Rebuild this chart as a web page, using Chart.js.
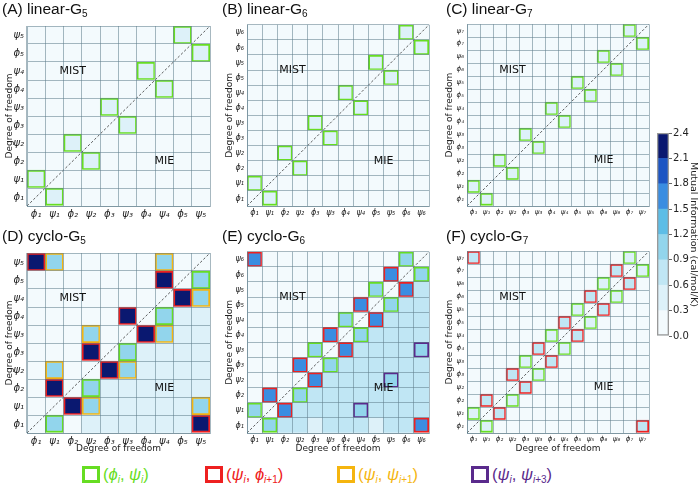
<!DOCTYPE html>
<html>
<head>
<meta charset="utf-8">
<script src="https://cdn.jsdelivr.net/npm/chart.js@4.4.1/dist/chart.umd.min.js"></script>
<style>
  body { margin: 0; width: 700px; height: 486px; background: #fff; position: relative; overflow: hidden; font-family: 'Liberation Sans', Arial, sans-serif; }
  .panel { position: absolute; }
  .ptitle { position: absolute; font-size: 15.5px; color: #111; white-space: nowrap; line-height: 18px; }
  .ptitle sub { font-size: 10px; vertical-align: -3px; line-height: 0; }
  .lg { position: absolute; top: 466px; display: flex; align-items: center; font-size: 16.5px; line-height: 17px; white-space: nowrap; }
  .lg .sw { width: 18px; height: 17px; box-sizing: border-box; border: 3px solid; margin-right: 3px; }
  .lg sub { font-size: 10px; line-height: 0; vertical-align: -3px; }
</style>
</head>
<body>
<script>
// Degrees of freedom (bottom to top / left to right)
const dofG5 = ['ϕ₁','ψ₁','ϕ₂','ψ₂','ϕ₃','ψ₃','ϕ₄','ψ₄','ϕ₅','ψ₅'];
const dofG6 = ['ϕ₁','ψ₁','ϕ₂','ψ₂','ϕ₃','ψ₃','ϕ₄','ψ₄','ϕ₅','ψ₅','ϕ₆','ψ₆'];
const dofG7 = ['ϕ₁','ψ₁','ϕ₂','ψ₂','ϕ₃','ψ₃','ϕ₄','ψ₄','ϕ₅','ψ₅','ϕ₆','ψ₆','ϕ₇','ψ₇'];

// Colour scale (cal/mol/K)
const miBins = [0, 0.3, 0.6, 0.9, 1.2, 1.5, 1.8, 2.1, 2.4];
const miColors = ['#f3fafd', '#ddf1f9', '#c0e6f4', '#92d5ec', '#5dbde6', '#3a8de1', '#1d55c3', '#0a1870'];

// Mutual information, rows listed top (last dof) to bottom (ϕ1)
const linearG5 = [
  [.1,.1,.1,.1,.1,.1,.1,.1,.4,.1],
  [.1,.1,.1,.1,.1,.1,.1,.1,.1,.4],
  [.1,.1,.1,.1,.1,.1,.4,.1,.1,.1],
  [.1,.1,.1,.1,.1,.1,.1,.4,.1,.1],
  [.1,.1,.1,.1,.4,.1,.1,.1,.1,.1],
  [.1,.1,.1,.1,.1,.4,.1,.1,.1,.1],
  [.1,.1,.4,.1,.1,.1,.1,.1,.1,.1],
  [.1,.1,.1,.4,.1,.1,.1,.1,.1,.1],
  [.4,.1,.1,.1,.1,.1,.1,.1,.1,.1],
  [.1,.4,.1,.1,.1,.1,.1,.1,.1,.1]
];
const linearG6 = [
  [.1,.1,.1,.1,.1,.1,.1,.1,.1,.1,.4,.1],
  [.1,.1,.1,.1,.1,.1,.1,.1,.1,.1,.1,.4],
  [.1,.1,.1,.1,.1,.1,.1,.1,.4,.1,.1,.1],
  [.1,.1,.1,.1,.1,.1,.1,.1,.1,.4,.1,.1],
  [.1,.1,.1,.1,.1,.1,.4,.1,.1,.1,.1,.1],
  [.1,.1,.1,.1,.1,.1,.1,.4,.1,.1,.1,.1],
  [.1,.1,.1,.1,.4,.1,.1,.1,.1,.1,.1,.1],
  [.1,.1,.1,.1,.1,.4,.1,.1,.1,.1,.1,.1],
  [.1,.1,.4,.1,.1,.1,.1,.1,.1,.1,.1,.1],
  [.1,.1,.1,.4,.1,.1,.1,.1,.1,.1,.1,.1],
  [.4,.1,.1,.1,.1,.1,.1,.1,.1,.1,.1,.1],
  [.1,.4,.1,.1,.1,.1,.1,.1,.1,.1,.1,.1]
];
const linearG7 = [
  [.1,.1,.1,.1,.1,.1,.1,.1,.1,.1,.1,.1,.4,.1],
  [.1,.1,.1,.1,.1,.1,.1,.1,.1,.1,.1,.1,.1,.4],
  [.1,.1,.1,.1,.1,.1,.1,.1,.1,.1,.4,.1,.1,.1],
  [.1,.1,.1,.1,.1,.1,.1,.1,.1,.1,.1,.4,.1,.1],
  [.1,.1,.1,.1,.1,.1,.1,.1,.4,.1,.1,.1,.1,.1],
  [.1,.1,.1,.1,.1,.1,.1,.1,.1,.4,.1,.1,.1,.1],
  [.1,.1,.1,.1,.1,.1,.4,.1,.1,.1,.1,.1,.1,.1],
  [.1,.1,.1,.1,.1,.1,.1,.4,.1,.1,.1,.1,.1,.1],
  [.1,.1,.1,.1,.4,.1,.1,.1,.1,.1,.1,.1,.1,.1],
  [.1,.1,.1,.1,.1,.4,.1,.1,.1,.1,.1,.1,.1,.1],
  [.1,.1,.4,.1,.1,.1,.1,.1,.1,.1,.1,.1,.1,.1],
  [.1,.1,.1,.4,.1,.1,.1,.1,.1,.1,.1,.1,.1,.1],
  [.4,.1,.1,.1,.1,.1,.1,.1,.1,.1,.1,.1,.1,.1],
  [.1,.4,.1,.1,.1,.1,.1,.1,.1,.1,.1,.1,.1,.1]
];
const cycloG5 = [
  [2.3,1.0,.1,.1,.1,.1,.1,1.0,.1,.1],
  [.1,.1,.1,.1,.1,.1,.1,2.3,.1,1.0],
  [.1,.1,.1,.1,.1,.1,.1,.1,2.3,1.0],
  [.1,.1,.1,.1,.1,2.3,.1,1.0,.4,.4],
  [.1,.1,.1,1.0,.1,.1,2.3,1.0,.4,.4],
  [.1,.1,.1,2.3,.1,1.0,.4,.4,.4,.4],
  [.1,1.0,.1,.1,2.3,1.0,.4,.4,.4,.4],
  [.1,2.3,.1,1.0,.4,.4,.4,.4,.4,.4],
  [.1,.1,2.3,1.0,.4,.4,.4,.4,.4,1.0],
  [.1,1.0,.2,.4,.4,.4,.4,.4,.4,2.3]
];
const cycloG6 = [
  [1.65,.1,.1,.1,.1,.1,.1,.1,.1,.1,1.0,.1],
  [.1,.1,.1,.1,.1,.1,.1,.1,.1,1.65,.1,1.0],
  [.1,.1,.1,.1,.1,.1,.1,.1,1.0,.1,1.65,.7],
  [.1,.1,.1,.1,.1,.1,.1,1.65,.1,1.0,.7,.7],
  [.1,.1,.1,.1,.1,.1,1.0,.1,1.65,.7,.7,.7],
  [.1,.1,.1,.1,.1,1.65,.1,1.0,.7,.7,.7,.7],
  [.1,.1,.1,.1,1.0,.1,1.65,.7,.7,.7,.7,1.0],
  [.1,.1,.1,1.65,.1,1.0,.7,.7,.7,.7,.7,.7],
  [.1,.1,.1,.1,1.65,.7,.7,.7,.7,1.0,.7,.7],
  [.1,1.65,.1,1.0,.7,.7,.7,.7,.7,.7,.7,.7],
  [1.0,.1,1.65,.7,.7,.7,.7,1.0,.7,.7,.7,.7],
  [.1,1.0,.7,.7,.45,.7,.7,.7,.45,.7,.7,1.65]
];
const cycloG7 = [
  [.8,.1,.1,.1,.1,.1,.1,.1,.1,.1,.1,.1,.4,.1],
  [.1,.1,.1,.1,.1,.1,.1,.1,.1,.1,.1,.8,.1,.4],
  [.1,.1,.1,.1,.1,.1,.1,.1,.1,.1,.4,.1,.8,.1],
  [.1,.1,.1,.1,.1,.1,.1,.1,.1,.8,.1,.4,.1,.1],
  [.1,.1,.1,.1,.1,.1,.1,.1,.4,.1,.8,.1,.1,.1],
  [.1,.1,.1,.1,.1,.1,.1,.8,.1,.4,.1,.1,.1,.1],
  [.1,.1,.1,.1,.1,.1,.4,.1,.8,.1,.1,.1,.1,.1],
  [.1,.1,.1,.1,.1,.8,.1,.4,.1,.1,.1,.1,.1,.1],
  [.1,.1,.1,.1,.4,.1,.8,.1,.1,.1,.1,.1,.1,.1],
  [.1,.1,.1,.8,.1,.4,.1,.1,.1,.1,.1,.1,.1,.1],
  [.1,.1,.1,.1,.8,.1,.1,.1,.1,.1,.1,.1,.1,.1],
  [.1,.8,.1,.4,.1,.1,.1,.1,.1,.1,.1,.1,.1,.1],
  [.4,.1,.8,.1,.1,.1,.1,.1,.1,.1,.1,.1,.1,.1],
  [.1,.4,.1,.1,.1,.1,.1,.1,.1,.1,.1,.1,.1,.8]
];

// Outlined cells: [column, row (0 = ϕ1), pair type]
const linearG5Boxes = [[8,9,'g'],[9,8,'g'],[6,7,'g'],[7,6,'g'],[4,5,'g'],[5,4,'g'],[2,3,'g'],[3,2,'g'],[0,1,'g'],[1,0,'g']];
const linearG6Boxes = [[10,11,'g'],[11,10,'g'],[8,9,'g'],[9,8,'g'],[6,7,'g'],[7,6,'g'],[4,5,'g'],[5,4,'g'],[2,3,'g'],[3,2,'g'],[0,1,'g'],[1,0,'g']];
const linearG7Boxes = [[12,13,'g'],[13,12,'g'],[10,11,'g'],[11,10,'g'],[8,9,'g'],[9,8,'g'],[6,7,'g'],[7,6,'g'],[4,5,'g'],[5,4,'g'],[2,3,'g'],[3,2,'g'],[0,1,'g'],[1,0,'g']];
const cycloG5Boxes = [[0,9,'r'],[1,9,'o'],[7,9,'o'],[7,8,'r'],[9,8,'g'],[8,7,'r'],[9,7,'o'],[5,6,'r'],[7,6,'g'],
  [3,5,'o'],[6,5,'r'],[7,5,'o'],[3,4,'r'],[5,4,'g'],[1,3,'o'],[4,3,'r'],[5,3,'o'],[1,2,'r'],[3,2,'g'],
  [2,1,'r'],[3,1,'o'],[9,1,'o'],[1,0,'g'],[9,0,'r']];
const cycloG6Boxes = [[0,11,'r'],[10,11,'g'],[9,10,'r'],[11,10,'g'],[8,9,'g'],[10,9,'r'],[7,8,'r'],[9,8,'g'],
  [6,7,'g'],[8,7,'r'],[5,6,'r'],[7,6,'g'],[4,5,'g'],[6,5,'r'],[11,5,'p'],[3,4,'r'],[5,4,'g'],[4,3,'r'],[9,3,'p'],
  [1,2,'r'],[3,2,'g'],[0,1,'g'],[2,1,'r'],[7,1,'p'],[1,0,'g'],[11,0,'r']];
const cycloG7Boxes = [[0,13,'r'],[12,13,'g'],[11,12,'r'],[13,12,'g'],[10,11,'g'],[12,11,'r'],[9,10,'r'],[11,10,'g'],
  [8,9,'g'],[10,9,'r'],[7,8,'r'],[9,8,'g'],[6,7,'g'],[8,7,'r'],[5,6,'r'],[7,6,'g'],[4,5,'g'],[6,5,'r'],
  [3,4,'r'],[5,4,'g'],[4,3,'r'],[1,2,'r'],[3,2,'g'],[0,1,'g'],[2,1,'r'],[1,0,'g'],[13,0,'r']];

const regionNames = ['MIST', 'MIE'];
const pairKinds = ['g', 'r', 'o', 'p'];
const pairLabels = [
  '(<i>ϕ</i><sub><i>i</i></sub>, <i>ψ</i><sub><i>i</i></sub>)',
  '(<i>ψ</i><sub><i>i</i></sub>, <i>ϕ</i><sub><i>i</i>+1</sub>)',
  '(<i>ψ</i><sub><i>i</i></sub>, <i>ψ</i><sub><i>i</i>+1</sub>)',
  '(<i>ψ</i><sub><i>i</i></sub>, <i>ψ</i><sub><i>i</i>+3</sub>)'
];
const boxColors = { g: '#66dd22', r: '#ee2020', o: '#f5b50f', p: '#5a2a8c' };
const gridColor = 'rgba(95,125,140,0.55)';

Chart.defaults.font.family = "'DejaVu Sans', sans-serif";
Chart.defaults.animation = false;

function miColor(v) {
  for (let i = 0; i < miColors.length; i++) if (v < miBins[i + 1]) return miColors[i];
  return miColors[miColors.length - 1];
}

// MIST / MIE labels placed through the hidden linear scale
const regionText = {
  id: 'regionText',
  afterDraw(chart) {
    const { ctx } = chart;
    const x2 = chart.scales.x2, y = chart.scales.y;
    const n = x2.max;
    ctx.save();
    ctx.font = "11px 'DejaVu Sans'";
    ctx.fillStyle = '#111';
    ctx.textAlign = 'center';
    ctx.textBaseline = 'middle';
    ctx.fillText(regionNames[0], x2.getPixelForValue(n * 0.25), y.getPixelForValue(n * 0.75));
    ctx.fillText(regionNames[1], x2.getPixelForValue(n * 0.75), y.getPixelForValue(n * 0.25));
    ctx.restore();
  }
};

function makePanel(p) {
  const n = p.labels.length;
  const xh = p.xTitle ? 26 : 15;
  const wrap = document.createElement('div');
  wrap.className = 'panel';
  wrap.style.left = (p.x - 27) + 'px';
  wrap.style.top = (p.y - 4) + 'px';
  wrap.style.width = (27 + p.w + 2) + 'px';
  wrap.style.height = (4 + 185 + xh) + 'px';
  const cv = document.createElement('canvas');
  wrap.appendChild(cv);
  document.body.appendChild(wrap);

  const t = document.createElement('div');
  t.className = 'ptitle';
  t.style.left = p.tx + 'px';
  t.style.top = p.ty + 'px';
  t.innerHTML = p.title[0] + '<sub>' + p.title[1] + '</sub>';
  document.body.appendChild(t);

  const boxAt = {};
  p.boxes.forEach(([c, r, k]) => { boxAt[c + ',' + r] = boxColors[k]; });

  const rows = [];
  for (let r = 0; r < n; r++) {
    const vals = p.values[n - 1 - r];
    rows.push({
      data: vals.map(() => [r, r + 1]),
      backgroundColor: vals.map(v => miColor(v)),
      borderColor: vals.map((v, c) => boxAt[c + ',' + r] || 'rgba(0,0,0,0)'),
      borderWidth: vals.map((v, c) => boxAt[c + ',' + r] ? 2 : 0),
      borderSkipped: false, grouped: false, barPercentage: 1, categoryPercentage: 1, order: 2
    });
  }
  const diag = {
    type: 'line', xAxisID: 'x2', data: [{ x: 0, y: 0 }, { x: n, y: n }],
    borderColor: '#333', borderWidth: 0.8, borderDash: [2.5, 2], pointRadius: 0, order: 0
  };
  const fs = n === 10 ? 10 : (n === 12 ? 8 : 7);
  const tickFont = { size: fs, style: 'italic' };
  const titleFont = { size: 9 };

  new Chart(cv, {
    type: 'bar',
    data: { labels: p.labels, datasets: [diag, ...rows] },
    plugins: [regionText],
    options: {
      responsive: true, maintainAspectRatio: false, events: [],
      layout: { padding: { top: 4, right: 2, left: 0, bottom: 0 } },
      plugins: { legend: { display: false }, tooltip: { enabled: false } },
      scales: {
        x: {
          offset: true,
          grid: { offset: true, z: 1, color: gridColor, drawTicks: false },
          border: { color: gridColor, z: 1 },
          ticks: { autoSkip: false, maxRotation: 0, minRotation: 0, padding: 2, color: '#222', font: tickFont },
          title: { display: p.xTitle, text: 'Degree of freedom', color: '#222', font: titleFont, padding: { top: 0, bottom: 5 } },
          afterFit: s => { s.height = xh; }
        },
        x2: { type: 'linear', display: false, offset: false, grid: { offset: false }, min: 0, max: n },
        y: {
          min: 0, max: n,
          afterBuildTicks: s => {
            const tk = [];
            for (let i = 0; i <= 2 * n; i++) tk.push({ value: i / 2 });
            s.ticks = tk;
          },
          grid: { z: 1, drawTicks: false, color: c => (c.tick && Number.isInteger(c.tick.value)) ? gridColor : 'rgba(0,0,0,0)' },
          border: { color: gridColor, z: 1 },
          ticks: { autoSkip: false, padding: 3, color: '#222', font: tickFont,
            callback: v => Number.isInteger(v) ? '' : p.labels[Math.floor(v)] },
          title: { display: true, text: 'Degree of freedom', color: '#222', font: titleFont, padding: { top: 4, bottom: 0 } },
          afterFit: s => { s.width = 27; }
        }
      }
    }
  });
}

const panels = [
  { title: ['(A) linear-G', '5'], labels: dofG5, values: linearG5, boxes: linearG5Boxes, x: 27, w: 183, y: 21, tx: 2, ty: 0, xTitle: false },
  { title: ['(B) linear-G', '6'], labels: dofG6, values: linearG6, boxes: linearG6Boxes, x: 247, w: 182, y: 21, tx: 222, ty: 0, xTitle: false },
  { title: ['(C) linear-G', '7'], labels: dofG7, values: linearG7, boxes: linearG7Boxes, x: 467, w: 182, y: 21, tx: 446, ty: 0, xTitle: false },
  { title: ['(D) cyclo-G', '5'], labels: dofG5, values: cycloG5, boxes: cycloG5Boxes, x: 27, w: 183, y: 248, tx: 2, ty: 227, xTitle: true },
  { title: ['(E) cyclo-G', '6'], labels: dofG6, values: cycloG6, boxes: cycloG6Boxes, x: 247, w: 182, y: 248, tx: 222, ty: 227, xTitle: true },
  { title: ['(F) cyclo-G', '7'], labels: dofG7, values: cycloG7, boxes: cycloG7Boxes, x: 467, w: 182, y: 248, tx: 446, ty: 227, xTitle: true }
];
panels.forEach(makePanel);

// Colour bar
const cbWrap = document.createElement('div');
cbWrap.className = 'panel';
cbWrap.style.left = '657px';
cbWrap.style.top = '126px';
cbWrap.style.width = '43px';
cbWrap.style.height = '217px';
const cbCanvas = document.createElement('canvas');
cbWrap.appendChild(cbCanvas);
document.body.appendChild(cbWrap);

const cbSets = miColors.map((c, i) => ({
  data: [[miBins[i], miBins[i + 1]]], backgroundColor: c, borderWidth: 0,
  grouped: false, barPercentage: 1, categoryPercentage: 1, order: 1
}));
cbSets.unshift({
  data: [[miBins[0], miBins[miBins.length - 1]]], backgroundColor: 'rgba(0,0,0,0)', borderColor: '#999', borderWidth: 1,
  borderSkipped: false, grouped: false, barPercentage: 1, categoryPercentage: 1, order: 0
});
new Chart(cbCanvas, {
  type: 'bar',
  data: { labels: [''], datasets: cbSets },
  options: {
    responsive: true, maintainAspectRatio: false, events: [],
    layout: { padding: { top: 4, bottom: 6, left: 0, right: 0 } },
    plugins: { legend: { display: false }, tooltip: { enabled: false } },
    scales: {
      x: { display: false },
      y: {
        position: 'right', min: 0, max: 2.4,
        afterBuildTicks: s => { s.ticks = miBins.map(v => ({ value: v })); },
        grid: { drawOnChartArea: false, drawTicks: true, tickLength: 3, color: '#666' },
        border: { display: false },
        ticks: { padding: 1, color: '#222', font: { size: 10 }, callback: v => v.toFixed(1) },
        title: { display: true, text: 'Mutual Information (cal/mol/K)', color: '#222', font: { size: 9.5 }, padding: { top: 1, bottom: 0 } },
        afterFit: s => { s.width = 31; }
      }
    }
  }
});

// Pair-type legend
const legendX = [82, 205, 337, 471];
pairKinds.forEach((k, i) => {
  const d = document.createElement('div');
  d.className = 'lg';
  d.style.left = legendX[i] + 'px';
  d.style.color = boxColors[k];
  d.innerHTML = '<span class="sw" style="border-color:' + boxColors[k] + '"></span><span>' + pairLabels[i] + '</span>';
  document.body.appendChild(d);
});
</script>
</body>
</html>
